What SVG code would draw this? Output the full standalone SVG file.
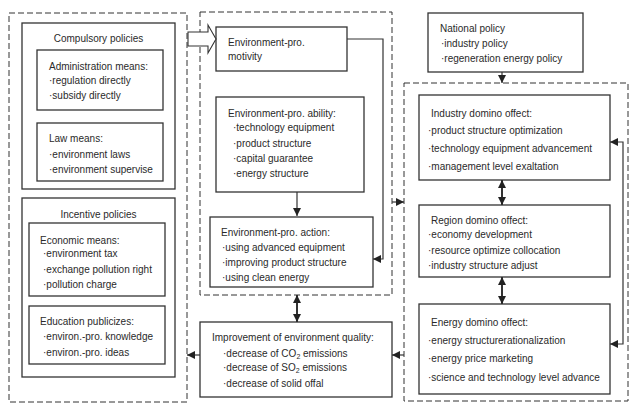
<svg xmlns="http://www.w3.org/2000/svg" width="629" height="404" viewBox="0 0 629 404">
<style>
text{font-family:"Liberation Sans",Arial,sans-serif;font-size:10px;fill:#2a2a2a}
.b{fill:#fff;stroke:#333;stroke-width:1.3}
.d{fill:none;stroke:#333;stroke-width:1;stroke-dasharray:6,3}
.c{fill:none;stroke:#333;stroke-width:1.2}
.t{fill:none;stroke:#333;stroke-width:2}
.sub{font-size:7px}
</style>
<defs>
<marker id="a" viewBox="0 0 10 10" refX="10" refY="5" markerWidth="9" markerHeight="8" markerUnits="userSpaceOnUse" orient="auto-start-reverse">
<path d="M0,0 L10,5 L0,10 z" fill="#222"/>
</marker>
</defs>
<rect width="629" height="404" fill="#fff"/>

<g id="left-group">
<rect class="d" x="9" y="13" width="178" height="389"/>
</g>
<g id="compulsory">
<rect class="b" x="22" y="23" width="153" height="166"/>
<text x="98.5" y="42" text-anchor="middle">Compulsory policies</text>
</g>
<g id="admin">
<rect class="b" x="37" y="50" width="126" height="60"/>
<text x="49" y="70">Administration means:</text>
<text x="49" y="84">·regulation directly</text>
<text x="49" y="99">·subsidy directly</text>
</g>
<g id="law">
<rect class="b" x="37" y="123" width="126" height="58"/>
<text x="49" y="142">Law means:</text>
<text x="49" y="158">·environment laws</text>
<text x="49" y="173">·environment supervise</text>
</g>
<g id="incentive">
<rect class="b" x="22" y="198" width="153" height="179"/>
<text x="98.5" y="218" text-anchor="middle">Incentive policies</text>
</g>
<g id="economic">
<rect class="b" x="29" y="223" width="136" height="73"/>
<text x="40" y="244">Economic means:</text>
<text x="43" y="257">·environment tax</text>
<text x="43" y="273">·exchange pollution right</text>
<text x="43" y="288">·pollution charge</text>
</g>
<g id="education">
<rect class="b" x="29" y="306" width="136" height="58"/>
<text x="40" y="325">Education publicizes:</text>
<text x="43" y="340">·environ.-pro. knowledge</text>
<text x="43" y="356">·environ.-pro. ideas</text>
</g>

<g id="center-group">
<rect class="d" x="200" y="12" width="192" height="283"/>
</g>
<g id="motivity">
<rect class="b" x="216" y="27" width="131" height="44"/>
<text x="228" y="46">Environment-pro.</text>
<text x="228" y="60">motivity</text>
</g>
<g id="ability">
<rect class="b" x="216" y="97" width="148" height="95"/>
<text x="228" y="117">Environment-pro. ability:</text>
<text x="233" y="131">·technology equipment</text>
<text x="233" y="147">·product structure</text>
<text x="233" y="162">·capital guarantee</text>
<text x="233" y="177">·energy structure</text>
</g>
<g id="action">
<rect class="b" x="210" y="217" width="163" height="70"/>
<text x="221" y="236">Environment-pro. action:</text>
<text x="222" y="251">·using advanced equipment</text>
<text x="222" y="266">·improving product structure</text>
<text x="222" y="281">·using clean energy</text>
</g>
<g id="improvement">
<rect class="b" x="200" y="322" width="192" height="75"/>
<text x="212" y="341">Improvement of environment quality:</text>
<text x="223" y="357">·decrease of CO<tspan class="sub" dy="2">2</tspan><tspan dy="-2"> emissions</tspan></text>
<text x="223" y="371">·decrease of SO<tspan class="sub" dy="2">2</tspan><tspan dy="-2"> emissions</tspan></text>
<text x="223" y="387">·decrease of solid offal</text>
</g>

<g id="national">
<rect class="b" x="428" y="13" width="155" height="59"/>
<text x="440" y="32">National policy</text>
<text x="441" y="47">·industry policy</text>
<text x="441" y="62">·regeneration energy policy</text>
</g>
<g id="right-group">
<rect class="d" x="404" y="83" width="224" height="318"/>
</g>
<g id="industry">
<rect class="b" x="419" y="95" width="191" height="85"/>
<text x="431" y="117">Industry domino offect:</text>
<text x="428" y="134">·product structure optimization</text>
<text x="428" y="152">·technology equipment advancement</text>
<text x="428" y="170">·management level exaltation</text>
</g>
<g id="region">
<rect class="b" x="419" y="205" width="191" height="72"/>
<text x="431" y="224">Region domino offect:</text>
<text x="428" y="238">·economy development</text>
<text x="428" y="254">·resource optimize collocation</text>
<text x="428" y="269">·industry structure adjust</text>
</g>
<g id="energy">
<rect class="b" x="419" y="304" width="191" height="90"/>
<text x="431" y="326">Energy domino offect:</text>
<text x="428" y="344">·energy structurerationalization</text>
<text x="428" y="362">·energy price marketing</text>
<text x="428" y="381">·science and technology level advance</text>
</g>

<g id="connectors">
<path d="M188,32 H208 V25 L216,39 L208,53 V46 H188 Z" fill="#fff" stroke="#333" stroke-width="1.1"/>
<line class="c" x1="297" y1="192" x2="297" y2="216" marker-end="url(#a)"/>
<polyline class="c" points="347,39 383,39 383,259 373,259" marker-end="url(#a)"/>
<line class="c" x1="392" y1="202" x2="404" y2="202" marker-end="url(#a)"/>
<line class="c" x1="502" y1="72" x2="502" y2="83" marker-end="url(#a)"/>
<line class="t" x1="502" y1="180" x2="502" y2="205" marker-start="url(#a)" marker-end="url(#a)"/>
<line class="t" x1="502" y1="277" x2="502" y2="304" marker-start="url(#a)" marker-end="url(#a)"/>
<polyline class="c" points="610,344 623,344 623,142 610,142" marker-start="url(#a)" marker-end="url(#a)"/>
<line class="t" x1="297" y1="295" x2="297" y2="322" marker-start="url(#a)" marker-end="url(#a)"/>
<line class="c" x1="200" y1="355" x2="187" y2="355" marker-end="url(#a)"/>
<line class="c" x1="404" y1="355" x2="392" y2="355" marker-end="url(#a)"/>
</g>
</svg>
